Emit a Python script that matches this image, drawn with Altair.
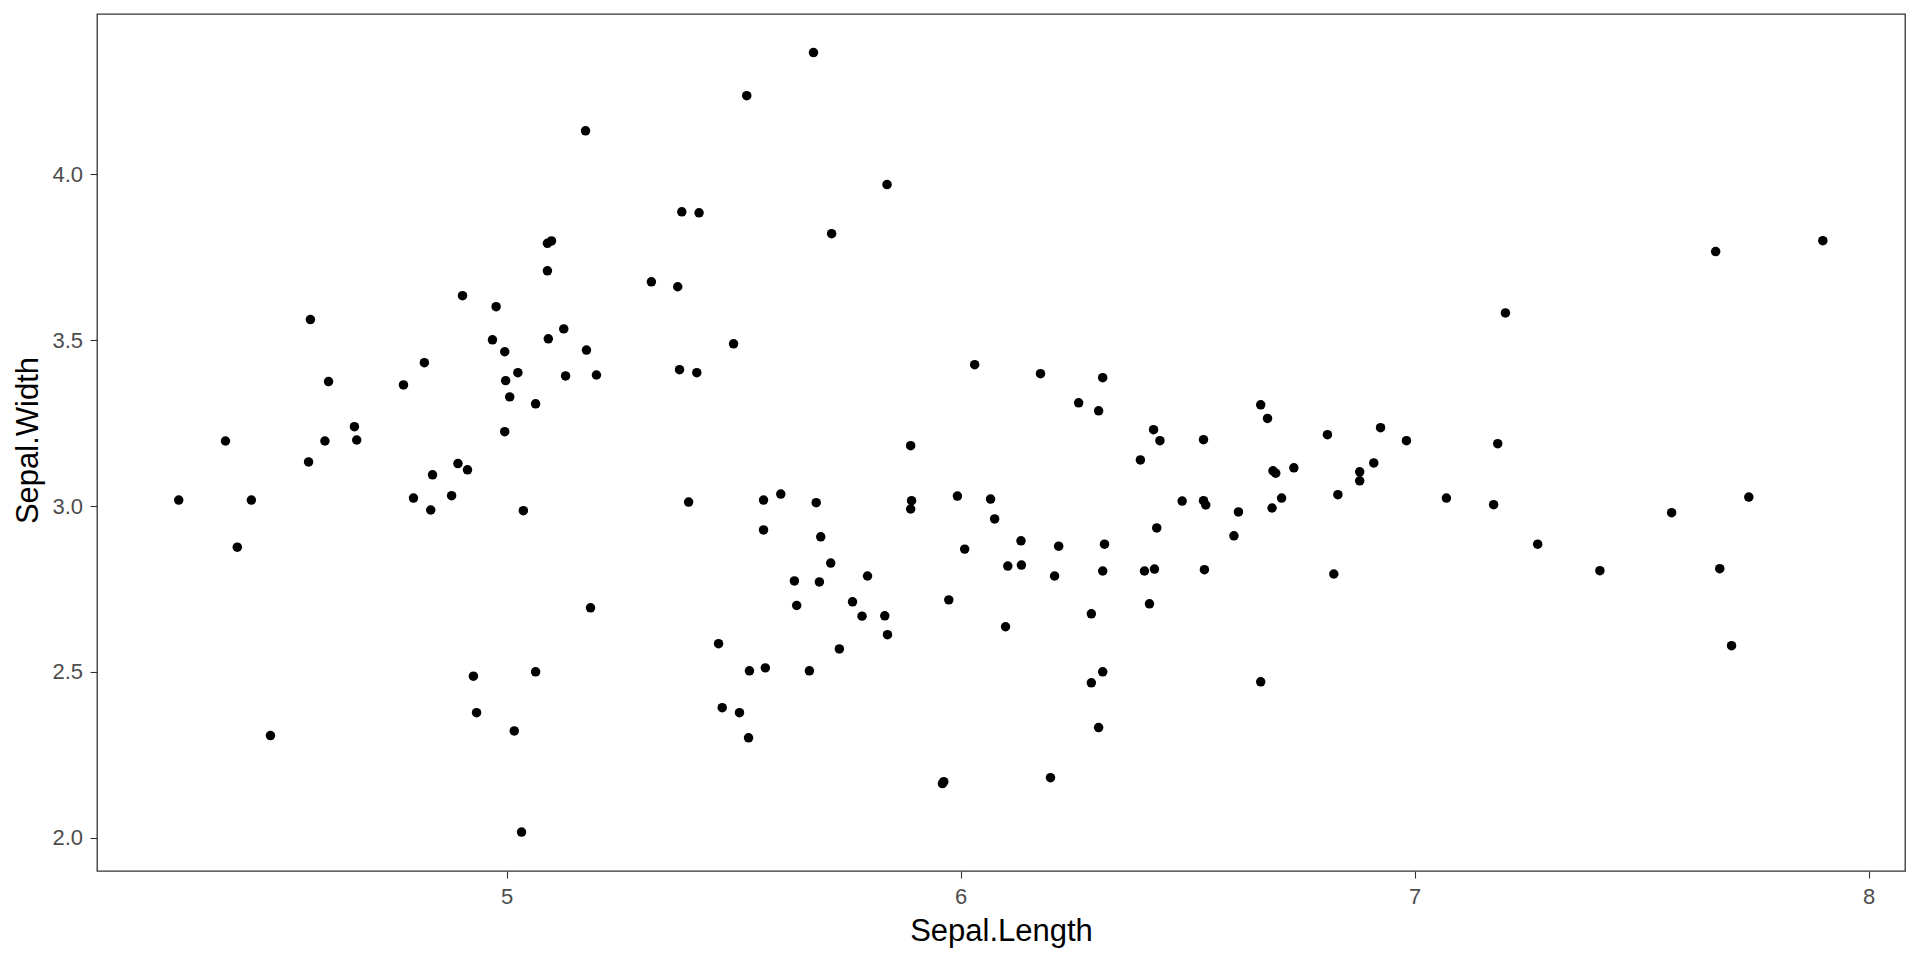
import altair as alt
import pandas as pd

# Jittered iris points
sepal_length = [
    5.099, 5.090, 5.090, 4.903, 4.977, 4.568, 4.969, 5.092, 4.996, 4.819,
    5.025, 4.608, 4.773, 4.998, 5.007, 5.064, 4.665, 4.996, 4.381, 4.600,
    4.670, 4.564, 4.278, 4.438, 4.407, 4.480, 4.795, 4.837, 4.833, 4.879,
    4.893, 4.914, 5.037, 4.927, 5.064, 4.934, 5.017, 5.033, 5.676, 5.529,
    5.174, 5.838, 5.386, 5.424, 5.716, 5.319, 5.377, 5.126, 5.176, 5.500,
    5.130, 5.198, 5.381, 5.419, 6.031, 5.890, 6.176, 6.313, 6.260, 6.304,
    6.425, 6.439, 6.535, 6.661, 6.676, 6.808, 6.925, 6.982, 7.663, 7.899,
    7.200, 7.183, 5.401, 5.566, 5.604, 5.682, 5.566, 5.692, 5.714, 5.634,
    5.689, 5.795, 5.639, 5.762, 5.783, 5.833, 5.839, 5.733, 5.185, 5.467,
    5.535, 5.570, 5.667, 5.475, 5.513, 5.533, 5.963, 5.960, 5.892, 5.890,
    5.993, 6.066, 6.075, 6.009, 6.104, 5.974, 6.099, 6.133, 6.134, 6.216,
    6.207, 6.317, 6.313, 6.396, 6.432, 6.405, 6.427, 6.416, 6.288, 6.488,
    6.535, 6.540, 6.537, 6.612, 6.602, 6.688, 6.694, 6.734, 6.686, 6.707,
    6.831, 6.822, 6.879, 6.879, 6.910, 7.070, 6.288, 6.313, 6.304, 6.198,
    6.661, 7.174, 7.271, 7.408, 7.566, 7.736, 7.672, 7.698,
]
sepal_width = [
    3.799, 3.792, 3.709, 3.634, 3.601, 3.562, 3.501, 3.504, 3.465, 3.432,
    3.402, 3.375, 3.365, 3.378, 3.329, 3.308, 3.239, 3.224, 3.196, 3.196,
    3.199, 3.133, 3.018, 3.018, 2.876, 2.308, 3.024, 3.094, 2.988, 3.031,
    3.128, 3.109, 2.986, 2.487, 2.500, 2.377, 2.322, 2.017, 4.367, 4.237,
    4.131, 3.969, 3.887, 3.884, 3.821, 3.676, 3.661, 3.534, 3.470, 3.489,
    3.392, 3.395, 3.411, 3.402, 3.426, 3.182, 3.399, 3.387, 3.311, 3.287,
    3.230, 3.197, 3.200, 3.305, 3.264, 3.215, 3.236, 3.197, 3.767, 3.800,
    3.582, 3.188, 3.012, 3.018, 3.036, 3.010, 2.928, 2.907, 2.828, 2.774,
    2.771, 2.789, 2.700, 2.711, 2.668, 2.669, 2.612, 2.569, 2.693, 2.585,
    2.503, 2.512, 2.503, 2.392, 2.377, 2.301, 2.169, 2.163, 3.016, 2.991,
    3.030, 3.021, 2.961, 2.870, 2.819, 2.717, 2.636, 2.895, 2.822, 2.879,
    2.789, 2.885, 2.804, 3.139, 2.934, 2.804, 2.810, 2.705, 2.675, 3.015,
    3.016, 3.003, 2.808, 2.982, 2.910, 3.106, 3.099, 3.115, 2.994, 3.024,
    3.034, 2.795, 3.103, 3.076, 3.130, 3.024, 2.467, 2.500, 2.332, 2.181,
    2.470, 3.004, 2.885, 2.805, 2.980, 3.027, 2.811, 2.579,
]

x_ticks = [5, 6, 7, 8]
y_ticks = [2.0, 2.5, 3.0, 3.5, 4.0]

df = pd.DataFrame({"Sepal.Length": sepal_length, "Sepal.Width": sepal_width})

FONT = "Liberation Sans"

chart = (
    alt.Chart(df)
    .mark_circle(size=90, color="black", opacity=1)
    .encode(
        x=alt.X(
            "Sepal\\.Length:Q",
            title="Sepal.Length",
            scale=alt.Scale(domain=[4.098, 8.080], nice=False, zero=False),
            axis=alt.Axis(
                values=x_ticks,
                format="d",
                grid=False,
                domain=False,
                tickSize=7,
                tickColor="#333333",
                tickWidth=1.1,
                labelFont=FONT,
                labelFontSize=22,
                labelColor="#4D4D4D",
                labelPadding=8,
                titleFont=FONT,
                titleFontSize=31,
                titleFontWeight="normal",
                titleColor="black",
                titleBaseline="alphabetic",
                titleY=69,
            ),
        ),
        y=alt.Y(
            "Sepal\\.Width:Q",
            title="Sepal.Width",
            scale=alt.Scale(domain=[1.8996, 4.4833], nice=False, zero=False),
            axis=alt.Axis(
                values=y_ticks,
                format=".1f",
                grid=False,
                domain=False,
                tickSize=7,
                tickColor="#333333",
                tickWidth=1.1,
                labelFont=FONT,
                labelFontSize=22,
                labelColor="#4D4D4D",
                labelPadding=7.5,
                titleFont=FONT,
                titleFontSize=31,
                titleFontWeight="normal",
                titleColor="black",
                titleAngle=270,
                titleBaseline="alphabetic",
                titleAlign="center",
                titleX=-60,
                titleY=426,
            ),
        ),
    )
    .properties(
        width=1808,
        height=857,
        autosize=alt.AutoSizeParams(type="none"),
        padding={"left": 89, "top": 6, "right": 5, "bottom": 80},
    )
    .configure(background="white")
    .configure_view(stroke="#333333", strokeWidth=1.3, fill="white")
)

chart.save("out.html", embed_options={"renderer": "svg", "actions": False})
